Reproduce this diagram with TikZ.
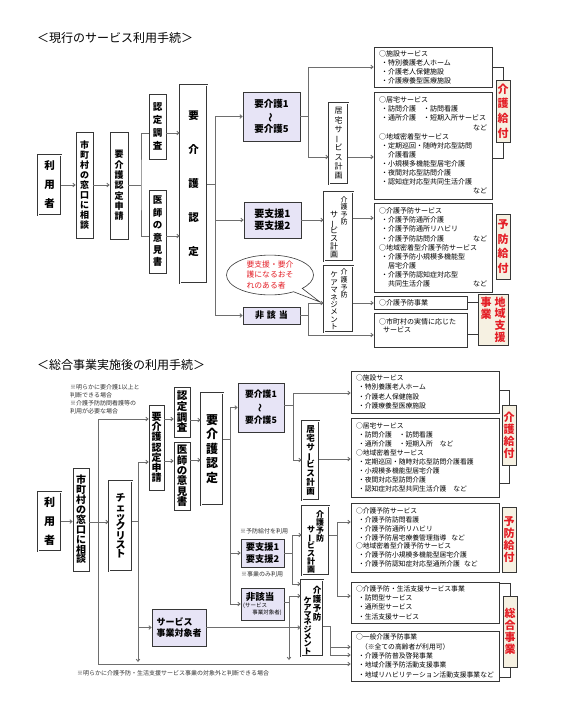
\documentclass[tikz,border=0pt]{standalone}
\usepackage{graphicx}
\usepackage{fontspec}
\setmainfont{Noto Sans CJK JP}
\usetikzlibrary{arrows.meta, shapes.callouts}

\definecolor{lavender}{RGB}{231,228,246}
\definecolor{beige}{RGB}{246,241,226}
\definecolor{kred}{RGB}{228,30,38}
\definecolor{linegray}{RGB}{110,110,110}
\definecolor{framegray}{RGB}{55,55,55}

\makeatletter
\newcommand{\vtxt}[2]{\vbox{\baselineskip=#1\relax\lineskiplimit=-20pt\relax\lineskip=0pt\relax
  \@tfor\vch:=#2\do{\hbox to 1em{\hss\vch\hss}}}}
\makeatother
\newcommand{\vl}{\rotatebox[origin=c]{90}{ー}}
\newcommand{\ind}{\hspace*{2pt}}
\newcommand{\cnt}{\hspace*{9pt}}
\newcommand{\fs}[2]{\fontsize{#1}{#2}\selectfont}

\tikzset{
  box/.style={draw=framegray, line width=0.6pt, fill=white, inner sep=0pt},
  dbox/.style={draw=framegray, line width=0.6pt, double=white, double distance=0.8pt, fill=white, inner sep=0pt},
  kbox/.style={box, fill=lavender, align=center},
  lbox/.style={box, fill=beige, text=kred, font=\bfseries\fs{11}{12}},
  listbox/.style={box, align=left, inner xsep=5pt, inner ysep=0pt},
  vt/.style={inner sep=0pt},
  arr/.style={draw=linegray, line width=0.9pt, -{Straight Barb[length=2.2pt,width=3.6pt]}},
  ln/.style={draw=linegray, line width=0.9pt},
  br/.style={draw=framegray, line width=0.6pt},
  note/.style={inner sep=0pt, anchor=west, font=\fs{6}{8}, text=black!80},
  ttl/.style={inner sep=0pt, anchor=west, font=\fs{12}{14}},
}

\begin{document}
\begin{tikzpicture}[x=1pt, y=-1pt]
  \fill[white] (0,0) rectangle (562,710);
  \useasboundingbox (0,0) rectangle (562,710);

  %% ---- current procedure ----
  \node[ttl] (title1) at (37,38) {＜現行のサービス利用手続＞};

  \node[dbox, minimum width=23pt, minimum height=60pt, font=\bfseries\fs{10.5}{12}] (riyo1) at (49.5,185) {\vtxt{19pt}{利用者}};
  \node[box, minimum width=17pt, minimum height=106pt, font=\bfseries\fs{9}{10}] (mado1) at (84.5,185) {\vtxt{10.1pt}{市町村の窓口に相談}};
  \node[box, minimum width=18pt, minimum height=107pt, font=\bfseries\fs{9}{10}] (shinsei1) at (119,185.5) {\vtxt{10.3pt}{要介護認定申請}};
  \node[box, minimum width=17pt, minimum height=65pt, font=\bfseries\fs{9.5}{10}] (chosa1) at (157.5,126.5) {\vtxt{13pt}{認定調査}};
  \node[box, minimum width=17pt, minimum height=83pt, font=\bfseries\fs{9.5}{10}] (ishi1) at (157.5,231.5) {\vtxt{12.4pt}{医師の意見書}};
  \node[dbox, minimum width=27pt, minimum height=198pt, font=\bfseries\fs{10.5}{12}] (nintei1) at (193.5,184) {\vtxt{34pt}{要介護認定}};

  \node[kbox, minimum width=57pt, minimum height=49pt, font=\bfseries\fs{9.5}{12.5}] (yokaigo1) at (271.5,116.5) {要介護1\\\rotatebox[origin=c]{90}{～}\\要介護5};
  \node[kbox, minimum width=57pt, minimum height=36pt, font=\bfseries\fs{10}{12}] (yoshien1) at (272.5,220) {要支援1\\要支援2};
  \node[kbox, minimum width=57pt, minimum height=17pt, font=\bfseries\fs{9}{10}] (higaito1) at (271.5,315.5) {非\hspace{3pt}該\hspace{3pt}当};

  \node[dbox, minimum width=19pt, minimum height=81pt, font=\fs{8}{9}] (kyotaku1) at (338.5,143.5) {\vtxt{9.3pt}{居宅サ\vl ビス計画}};
  \node[dbox, minimum width=29pt, minimum height=69pt] (yoboplan1) at (338.5,226.5) {};
  \node[vt, font=\fs{7}{8}] (yoboplan1a) at (344,211) {\vtxt{7.5pt}{介護予防}};
  \node[vt, font=\fs{8}{9}] (yoboplan1b) at (334,235) {\vtxt{8pt}{サ\vl ビス計画}};
  \node[dbox, minimum width=29pt, minimum height=66pt] (caremg1) at (338.5,299) {};
  \node[vt, font=\fs{7}{8}] (caremg1a) at (344,283.5) {\vtxt{7.7pt}{介護予防}};
  \node[vt, font=\fs{7.5}{8}] (caremg1b) at (334,301) {\vtxt{7.4pt}{ケアマネジメント}};

  \node[draw=framegray, line width=0.6pt, fill=white, ellipse callout, callout absolute pointer={(320,302)},
        minimum width=87pt, minimum height=34pt, inner sep=0pt, text=kred, align=left,
        font=\fs{7.8}{10.5}] (bubble) at (270,275) {要支援・要介\\護になるおそ\\れのある者};

  \node[listbox, text width=108pt, minimum height=40pt, font=\fs{7}{9}] (shisetsu1) at (433,67)
    {○施設サービス\\\ind・特別養護老人ホーム\\\ind・介護老人保健施設\\\ind・介護療養型医療施設};
  \node[listbox, text width=108pt, minimum height=107pt, font=\fs{7}{9.1}] (zaitaku1) at (433,145.5)
    {○居宅サービス\\\ind・訪問介護　・訪問看護\\\ind・通所介護　・短期入所サービス\\\hspace*{\fill}など\hspace*{4pt}\\
     ○地域密着型サービス\\\ind・定期巡回・随時対応型訪問\\\cnt 介護看護\\\ind・小規模多機能型居宅介護\\
     \ind・夜間対応型訪問介護\\\ind・認知症対応型共同生活介護\\\hspace*{\fill}など\hspace*{4pt}};
  \node[listbox, text width=108pt, minimum height=89pt, font=\fs{7}{9.1}] (yobosv1) at (433,247.5)
    {○介護予防サービス\\\ind・介護予防通所介護\\\ind・介護予防通所リハビリ\\\ind・介護予防訪問介護\hspace*{\fill}など\hspace*{4pt}\\
     ○地域密着型介護予防サービス\\\ind・介護予防小規模多機能型\\\cnt 居宅介護\\\ind・介護予防認知症対応型\\
     \cnt 共同生活介護\hspace*{\fill}など\hspace*{4pt}};
  \node[listbox, text width=83pt, minimum height=13pt, font=\fs{7}{9}] (yobojg1) at (420.5,302.5) {○介護予防事業};
  \node[listbox, text width=83pt, minimum height=34pt, font=\fs{7}{8.5}] (jitsujo1) at (420.5,330)
    {○市町村の実情に応じた\\\hspace*{4pt}サービス\\\mbox{}};

  \node[lbox, minimum width=14pt, minimum height=62pt] (kaigokyufu1) at (503,111) {\vtxt{14.7pt}{介護給付}};
  \node[lbox, minimum width=14pt, minimum height=65pt] (yobokyufu1) at (503,246.5) {\vtxt{14.7pt}{予防給付}};
  \node[lbox, minimum width=30pt, minimum height=51pt] (chiiki1) at (493,319.5) {};
  \node[vt, text=kred, font=\bfseries\fs{11}{12}] (chiiki1a) at (500,319.5) {\vtxt{11.7pt}{地域支援}};
  \node[vt, text=kred, font=\bfseries\fs{11}{12}] (chiiki1b) at (486,308) {\vtxt{11.7pt}{事業}};

  %% connectors (top)
  \draw[arr] (riyo1.east) -- (mado1.west);
  \draw[arr] (mado1.east) -- (shinsei1.west |- mado1.east);
  \coordinate (ja) at (141,185);
  \draw[ln] (shinsei1.east |- ja) -- (ja);
  \draw[ln] (chosa1.west |- 0,133) -| (ja) |- (ishi1.west |- 0,236);
  \draw[arr] (chosa1.east |- 0,133) -- (nintei1.west |- 0,133);
  \draw[arr] (ishi1.east |- 0,236) -- (nintei1.west |- 0,236);
  \coordinate (jb) at (215,184);
  \draw[ln] (nintei1.east |- jb) -- (jb);
  \draw[arr] (jb) |- (yokaigo1.west);
  \draw[arr] (jb) |- (yoshien1.west);
  \draw[arr] (jb) |- (higaito1.west);
  \coordinate (jc) at (308,116.5);
  \draw[ln] (yokaigo1.east) -- (jc);
  \draw[arr] (jc) |- (shisetsu1.west);
  \draw[arr] (jc) |- (kyotaku1.west |- 0,157);
  \draw[arr] (kyotaku1.east |- 0,157) -- (zaitaku1.west |- 0,157);
  \draw[arr] (yoshien1.east) -- (yoboplan1.west |- yoshien1.east);
  \draw[arr] (yoboplan1.east |- 0,218) -- (yobosv1.west |- 0,218);
  \coordinate (jd) at (308,315.5);
  \draw[ln] (higaito1.east) -- (jd);
  \draw[arr] (jd) |- (caremg1.west |- 0,303);
  \draw[arr] (jd) |- (jitsujo1.west |- 0,335);
  \draw[arr] (caremg1.east |- 0,303) -- (yobojg1.west |- 0,303);
  \draw[br] (shisetsu1.east) -| (kaigokyufu1.north);
  \draw[br] (kaigokyufu1.south) |- (zaitaku1.east |- 0,158);
  \draw[br] (yobojg1.east) -- (chiiki1.west |- yobojg1.east);
  \draw[br] (jitsujo1.east |- 0,334) -- (chiiki1.west |- 0,334);

  %% ---- after the comprehensive programme ----
  \node[ttl] (title2) at (37,365) {＜総合事業実施後の利用手続＞};
  \node[note, anchor=north west, align=left] (note1) at (70,384)
    {※明らかに要介護1以上と\\判断できる場合\\※介護予防訪問看護等の\\利用が必要な場合};

  \node[dbox, minimum width=23pt, minimum height=59pt, font=\bfseries\fs{11}{12}] (riyo2) at (49.5,521.5) {\vtxt{19pt}{利用者}};
  \node[box, minimum width=16pt, minimum height=103pt, font=\bfseries\fs{10}{11}] (mado2) at (81,519.5) {\vtxt{9.9pt}{市町村の窓口に相談}};
  \node[dbox, minimum width=23pt, minimum height=90pt, font=\bfseries\fs{10}{11}] (check2) at (120.5,526) {\vtxt{9.3pt}{チェックリスト}};
  \node[box, minimum width=15pt, minimum height=85pt, font=\bfseries\fs{10}{11}] (shinsei2) at (156.5,447.5) {\vtxt{10.2pt}{要介護認定申請}};
  \node[box, minimum width=16pt, minimum height=50pt, font=\bfseries\fs{10.5}{12}] (chosa2) at (182,412) {\vtxt{10.7pt}{認定調査}};
  \node[box, minimum width=16pt, minimum height=68pt, font=\bfseries\fs{10.5}{12}] (ishi2) at (182,476) {\vtxt{10.4pt}{医師の意見書}};
  \node[dbox, minimum width=22pt, minimum height=112pt, font=\bfseries\fs{12}{13}] (nintei2) at (212,449) {\vtxt{14.5pt}{要介護認定}};

  \node[kbox, minimum width=46pt, minimum height=49pt, font=\bfseries\fs{8.8}{13}] (yokaigo2) at (261,407.5) {要介護1\\\rotatebox[origin=c]{90}{～}\\要介護5};
  \node[note] (note2) at (240,531) {※予防給付を利用};
  \node[kbox, minimum width=43pt, minimum height=28pt, font=\bfseries\fs{9.2}{12}] (yoshien2) at (262.5,553) {要支援1\\要支援2};
  \node[note] (note3) at (241,574) {※事業のみ利用};
  \node[kbox, minimum width=43pt, minimum height=32pt] (higaito2) at (262.5,604) {};
  \node[vt, font=\bfseries\fs{9.5}{10}] (higaito2a) at (260,597) {非該当};
  \node[vt, anchor=west, font=\fs{5.5}{6}] (higaito2b) at (243,606) {(サービス};
  \node[vt, anchor=east, font=\fs{5.5}{6}] (higaito2c) at (282,613) {事業対象者)};
  \node[kbox, minimum width=54pt, minimum height=37pt, align=left, font=\bfseries\fs{9}{11}] (taisho2) at (179,627.5) {サービス\\事業対象者};

  \node[dbox, minimum width=17pt, minimum height=79pt, font=\bfseries\fs{8.5}{9}] (kyotaku2) at (310.5,460.5) {\vtxt{8.9pt}{居宅サ\vl ビス計画}};
  \node[dbox, minimum width=27pt, minimum height=69pt] (yoboplan2) at (315.5,540.5) {};
  \node[vt, font=\bfseries\fs{8}{9}] (yoboplan2a) at (320,526) {\vtxt{8pt}{介護予防}};
  \node[vt, font=\bfseries\fs{8}{9}] (yoboplan2b) at (311,550) {\vtxt{8pt}{サ\vl ビス計画}};
  \node[dbox, minimum width=22pt, minimum height=76pt] (caremg2) at (312,618) {};
  \node[vt, font=\bfseries\fs{8.5}{9}] (caremg2a) at (317,603.5) {\vtxt{9pt}{介護予防}};
  \node[vt, font=\bfseries\fs{8}{9}] (caremg2b) at (307.5,625.5) {\vtxt{7.3pt}{ケアマネジメント}};

  \node[listbox, text width=138pt, minimum height=42pt, font=\fs{6.8}{9.3}] (shisetsu2) at (425,392)
    {○施設サービス\\\ind・特別養護老人ホーム\\\ind・介護老人保健施設\\\ind・介護療養型医療施設};
  \node[listbox, text width=138pt, minimum height=79pt, font=\fs{6.8}{8.9}] (zaitaku2) at (425,457.5)
    {○居宅サービス\\\ind・訪問介護　・訪問看護\\\ind・通所介護　・短期入所\hspace{7pt}など\\○地域密着型サービス\\
     \ind・定期巡回・随時対応型訪問介護看護\\\ind・小規模多機能型居宅介護\\\ind・夜間対応型訪問介護\\
     \ind・認知症対応型共同生活介護\hspace{7pt}など};
  \node[listbox, text width=138pt, minimum height=69pt, font=\fs{6.8}{8.7}] (yobosv2) at (425,537.5)
    {○介護予防サービス\\\ind・介護予防訪問看護\\\ind・介護予防通所リハビリ\\\ind・介護予防居宅療養管理指導\hspace{5pt}など\\
     ○地域密着型介護予防サービス\\\ind・介護予防小規模多機能型居宅介護\\\ind・介護予防認知症対応型通所介護\hspace{4pt}など};
  \node[listbox, text width=138pt, minimum height=41pt, font=\fs{6.8}{9.3}] (seikatsu2) at (425,602.5)
    {○介護予防・生活支援サービス事業\\\ind・訪問型サービス\\\ind・通所型サービス\\\ind・生活支援サービス};
  \node[listbox, text width=138pt, minimum height=50pt, font=\fs{6.8}{9.3}] (ippan2) at (425,656)
    {○一般介護予防事業\\\hspace*{5pt}（※全ての高齢者が利用可）\\\ind・介護予防普及啓発事業\\\ind・地域介護予防活動支援事業\\
     \ind・地域リハビリテーション活動支援事業など};

  \node[lbox, minimum width=14pt, minimum height=60pt] (kaigokyufu2) at (509,435) {\vtxt{12pt}{介護給付}};
  \node[lbox, minimum width=14pt, minimum height=65pt] (yobokyufu2) at (509,539.5) {\vtxt{12pt}{予防給付}};
  \node[lbox, minimum width=14pt, minimum height=71pt] (sogo2) at (510,631.5) {\vtxt{12pt}{総合事業}};

  \node[note] (note4) at (77,673) {※明らかに介護予防・生活支援サービス事業の対象外と判断できる場合};

  %% connectors (bottom)
  \draw[arr] (riyo2.east) -- (mado2.west |- riyo2.east);
  \draw[arr] (mado2.east |- 0,522) -- (check2.west |- 0,522);
  \coordinate (je) at (98,419);
  \coordinate (jf) at (98,664);
  \draw[ln] (je) -- (jf);
  \draw[arr] (je) -- (shinsei2.west |- je);
  \draw[arr] (jf) -- (ippan2.west |- jf);
  \coordinate (jg) at (138,521);
  \coordinate (jh) at (138,462);
  \coordinate (ji) at (138,662);
  \draw[ln] (check2.east |- jg) -- (jg);
  \draw[arr] (jg) -- (jh) -- (shinsei2.west |- jh);
  \draw[arr] (jg) -- (ji);
  \draw[arr] (jg |- taisho2.west) -- (taisho2.west);
  \draw[arr] (shinsei2.east |- 0,419) -- (chosa2.west |- 0,419);
  \draw[arr] (shinsei2.east |- 0,461) -- (ishi2.west |- 0,461);
  \draw[arr] (chosa2.east |- 0,420) -- (nintei2.west |- 0,420);
  \draw[arr] (ishi2.east |- 0,460) -- (nintei2.west |- 0,460);
  \coordinate (jj) at (230,439);
  \draw[ln] (nintei2.east |- jj) -- (jj);
  \draw[arr] (jj) |- (yokaigo2.west);
  \draw[arr] (jj) |- (yoshien2.west);
  \draw[arr] (jj) |- (higaito2.west);
  \coordinate (jk) at (293,405);
  \draw[ln] (yokaigo2.east |- jk) -- (jk);
  \draw[arr] (jk) |- (shisetsu2.west |- 0,393);
  \draw[arr] (jk) |- (kyotaku2.west |- 0,460);
  \draw[arr] (kyotaku2.east |- 0,459) -- (zaitaku2.west |- 0,459);
  \coordinate (jl) at (292,553);
  \draw[ln] (yoshien2.east) -- (jl);
  \draw[arr] (jl) |- (yoboplan2.west |- 0,535);
  \draw[arr] (jl) |- (caremg2.west |- 0,584);
  \coordinate (jm) at (289,602);
  \coordinate (jn) at (289,660);
  \draw[ln] (higaito2.east |- jm) -- (jm);
  \draw[arr] (jm) |- (caremg2.west |- 0,596);
  \draw[arr] (jm) -- (jn);
  \draw[arr] (taisho2.east) -- (caremg2.west |- taisho2.east);
  \coordinate (jo) at (337,535);
  \draw[ln] (yoboplan2.east |- jo) -- (jo);
  \draw[arr] (jo) |- (yobosv2.west |- 0,522);
  \draw[arr] (jo) |- (seikatsu2.west |- 0,596);
  \coordinate (jp) at (330,626);
  \draw[ln] (caremg2.east |- jp) -- (jp);
  \draw[arr] (jp) |- (ippan2.west |- 0,647);
  \draw[arr] (jp) |- (ippan2.west |- 0,655);
  \draw[br] (shisetsu2.east |- 0,390) -| (kaigokyufu2.north);
  \draw[br] (kaigokyufu2.south) |- (zaitaku2.east |- 0,483);
  \draw[br] (seikatsu2.east |- 0,583) -| (sogo2.north);
  \draw[br] (sogo2.south) |- (ippan2.east |- 0,677);
\end{tikzpicture}
\end{document}
